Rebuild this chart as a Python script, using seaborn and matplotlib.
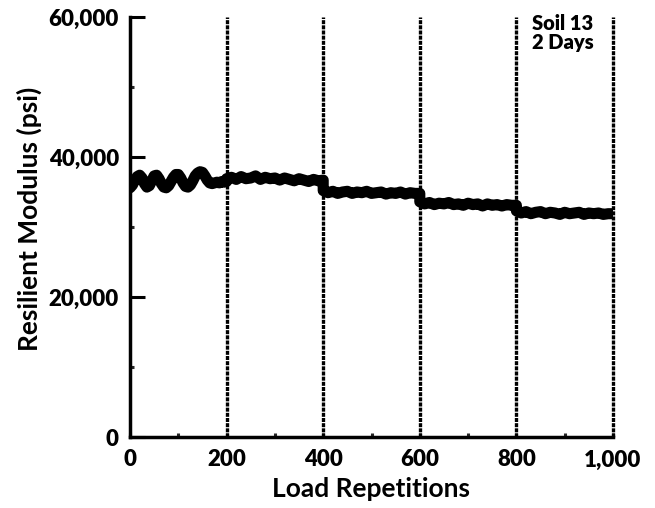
import matplotlib
matplotlib.use("Agg")
import matplotlib.pyplot as plt
import seaborn as sns
import pandas as pd
from matplotlib.ticker import MultipleLocator, FixedLocator

# ---- data ----
reps_seg1 = list(range(0, 201, 5))
mr_seg1 = [35.6, 36.0, 36.7, 37.2, 37.4, 37.0, 36.2, 35.7, 35.9, 36.6,
           37.3, 37.4, 36.9, 36.2, 35.7, 35.6, 35.9, 36.5, 37.1, 37.5,
           37.5, 37.0, 36.3, 35.8, 35.7, 36.0, 36.6, 37.3, 37.7, 37.9,
           37.8, 37.3, 36.7, 36.3, 36.2, 36.3, 36.4, 36.3, 36.5, 36.4, 36.5]

reps_seg2 = list(range(200, 401, 10))
mr_seg2 = [36.9, 37.1, 36.8, 37.2, 36.9, 37.0, 37.3, 36.8, 37.1, 36.9, 37.0,
           36.7, 37.0, 36.8, 36.6, 36.9, 36.7, 36.5, 36.8, 36.6, 36.7]

reps_seg3 = list(range(400, 601, 10))
mr_seg3 = [35.2, 34.9, 35.1, 34.8, 35.0, 35.1, 34.8, 35.0, 34.9, 35.1, 34.8,
           34.9, 35.0, 34.7, 34.9, 34.8, 35.0, 34.7, 34.9, 34.8, 34.8]

reps_seg4 = list(range(600, 801, 10))
mr_seg4 = [33.6, 33.3, 33.5, 33.2, 33.4, 33.3, 33.5, 33.2, 33.3, 33.1, 33.4,
           33.2, 33.3, 33.0, 33.3, 33.1, 33.2, 33.0, 33.2, 33.1, 33.1]

reps_seg5 = list(range(800, 1001, 10))
mr_seg5 = [32.3, 32.0, 32.2, 31.9, 32.1, 32.2, 31.9, 32.1, 32.0, 31.8, 32.1,
           31.9, 32.0, 32.1, 31.8, 32.0, 31.9, 32.0, 31.8, 31.9, 31.9]

segment_bounds = [200, 400, 600, 800, 1000]
x_ticks = [0, 200, 400, 600, 800, 1000]
x_ticklabels = ["0", "200", "400", "600", "800", "1,000"]
y_ticks = [0, 20000, 40000, 60000]
y_ticklabels = ["0", "20,000", "40,000", "60,000"]
annotation = "Soil 13\n2 Days"

reps = reps_seg1 + reps_seg2 + reps_seg3 + reps_seg4 + reps_seg5
mr = [v * 1000 for v in (mr_seg1 + mr_seg2 + mr_seg3 + mr_seg4 + mr_seg5)]
df = pd.DataFrame({"Load Repetitions": reps, "Mr": mr})

# ---- plotting ----
sns.set_theme(style="ticks")
plt.rcParams["font.family"] = ["Lato", "DejaVu Sans"]

fig = plt.figure(figsize=(6.55, 5.08), dpi=100)
ax = fig.add_axes([130 / 655, 1 - 437 / 508, (613 - 130) / 655, (437 - 17) / 508])

for b in segment_bounds:
    ax.axvline(b, color="black", lw=2.4, linestyle=(0, (1.2, 0.35)), zorder=1,
               clip_on=False)

sns.lineplot(data=df, x="Load Repetitions", y="Mr", estimator=None, sort=False,
             color="black", lw=8, ax=ax, zorder=3)

ax.set_xlim(0, 1000)
ax.set_ylim(0, 60000)

for s in ["top", "right"]:
    ax.spines[s].set_visible(False)
for s in ["left", "bottom"]:
    ax.spines[s].set_linewidth(2.5)
    ax.spines[s].set_color("black")

ax.xaxis.set_major_locator(FixedLocator(x_ticks))
ax.set_xticklabels(x_ticklabels)
ax.xaxis.set_minor_locator(MultipleLocator(100))
ax.yaxis.set_major_locator(FixedLocator(y_ticks))
ax.set_yticklabels(y_ticklabels)
ax.yaxis.set_minor_locator(MultipleLocator(10000))

ax.tick_params(axis="y", which="major", direction="in", length=11, width=2.2, pad=8,
               labelsize=16, colors="black")
ax.tick_params(axis="y", which="minor", direction="in", length=3, width=2.2)
ax.tick_params(axis="x", which="major", direction="in", length=3, width=2.2, pad=9,
               labelsize=16, colors="black")
ax.tick_params(axis="x", which="minor", direction="in", length=3, width=2.2)
for lab in ax.get_xticklabels() + ax.get_yticklabels():
    lab.set_fontweight("heavy")

ax.set_xlabel("Load Repetitions", fontsize=19, fontweight="bold", color="black")
ax.set_ylabel("Resilient Modulus (psi)", fontsize=19, fontweight="bold", color="black")
ax.xaxis.label.set_va("baseline")
ax.xaxis.set_label_coords(0.5, -0.143)
ax.yaxis.set_label_coords(-0.182, 0.52)

ax.text(0.832, 1.007, annotation, transform=ax.transAxes, ha="left", va="top",
        fontsize=14.5, fontweight="heavy", linespacing=1.0, color="black")

fig.savefig("out.png", dpi=100)
